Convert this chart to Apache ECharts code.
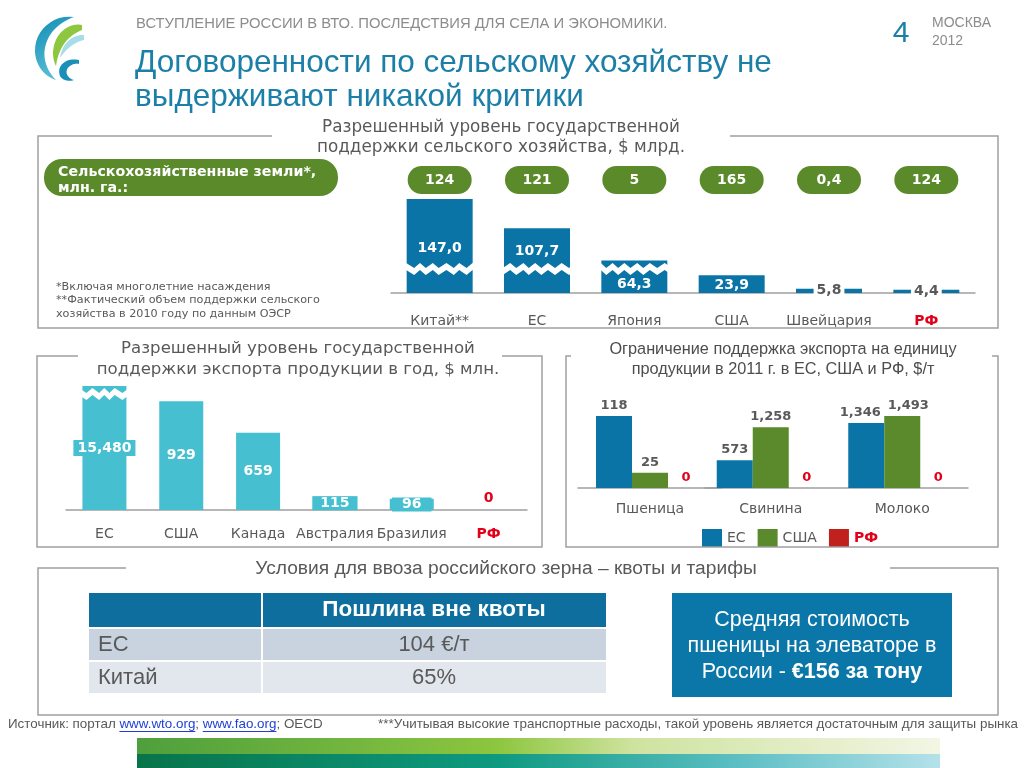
<!DOCTYPE html>
<html><head><meta charset="utf-8">
<script src="https://cdn.jsdelivr.net/npm/echarts@6/dist/echarts.min.js"></script>
<style>html,body{margin:0;padding:0;background:#fff}#c{width:1024px;height:768px}</style>
</head><body><div id="c"></div>
<script>
// ---------- data ----------
const supportCats = ['Китай**', 'ЕС', 'Япония', 'США', 'Швейцария', 'РФ'];
const supportValues = [147.0, 107.7, 64.3, 23.9, 5.8, 4.4];
const landValues = [124, 121, 5, 165, 0.4, 124];
const exportCats = ['ЕС', 'США', 'Канада', 'Австралия', 'Бразилия', 'РФ'];
const exportValues = [15480, 929, 659, 115, 96, 0];
const unitCats = ['Пшеница', 'Свинина', 'Молоко'];
const unitEU = [118, 573, 1346];
const unitUSA = [25, 1258, 1493];
const unitRF = [0, 0, 0];
const unitSeriesNames = ['ЕС', 'США', 'РФ'];
const tableHeader = 'Пошлина вне квоты';
const tableRows = [['ЕС', '104 €/т'], ['Китай', '65%']];

// ---------- styles ----------
const DV = '"DejaVu Sans", Verdana, sans-serif';
const LS = '"Liberation Sans", Arial, sans-serif';
const GREY = '#595959';
const AXIS = '#A0A0A0';
const RED = '#E3001B';
const BLUE = '#0B74A6';
const CYAN = '#46BFD0';
const GREEN = '#5B8A2B';
const RFRED = '#C0211C';
const TEAL = '#1B7FA7';

const fmtDec = v => v.toFixed(1).replace('.', ',');
const fmtLand = v => String(v).replace('.', ',');
const fmtK = v => v.toLocaleString('en-US');

const supportLabelStyles = [
  { position: 'insideBottom', distance: 38 },
  { position: 'insideBottom', distance: 35 },
  { position: 'insideBottom', distance: 2 },
  { position: 'insideBottom', distance: 1 },
  { position: 'inside', color: GREY, backgroundColor: '#fff', padding: [0, 3] },
  { position: 'inside', color: GREY, backgroundColor: '#fff', padding: [0, 3] }
];
const exportLabelStyles = [
  { position: 'inside', backgroundColor: CYAN, padding: [1, 4] },
  { position: 'inside' },
  { position: 'inside' },
  { position: 'inside', backgroundColor: CYAN, padding: [0, 8] },
  { position: 'inside', backgroundColor: CYAN, padding: [0, 10] },
  { position: 'top', distance: 5, color: RED }
];
// horizontal label nudges for chart 3 (series x category)
const unitLabelOffsets = [[0, 0, -6], [0, 0, 6], [0, 0, 0]];

const rfRich = { r: { color: RED, fontWeight: 'bold', fontFamily: DV, fontSize: 14 } };
const rfFmt = v => v === 'РФ' ? '{r|РФ}' : v;

const mctx = document.createElement('canvas').getContext('2d');
function tw(text, font) { mctx.font = font; return mctx.measureText(text).width; }

function T(x, y, text, o) {
  o = o || {};
  return {
    type: 'text', x: x, y: y, silent: true, z: 10,
    style: {
      text: text, fill: o.fill || GREY, font: o.font || ('14px ' + DV),
      textAlign: o.align || 'left', textVerticalAlign: 'middle', rich: o.rich
    }
  };
}
function R(x, y, w, h, fill, r) {
  return { type: 'rect', silent: true, z: 5, shape: { x: x, y: y, width: w, height: h, r: r || 0 }, style: { fill: fill } };
}
function PL(points) {
  return { type: 'polyline', silent: true, z: 5, shape: { points: points }, style: { stroke: AXIS, lineWidth: 1.5, fill: null } };
}
// sample a chain of cubic bezier segments into polygon points (logo drawing only)
function bezPoly(start, segs) {
  const pts = [start];
  let p0 = start;
  segs.forEach(s => {
    const [c1, c2, p3] = s;
    for (let t = 1; t <= 12; t++) {
      const u = t / 12, m = 1 - u;
      pts.push([
        m * m * m * p0[0] + 3 * m * m * u * c1[0] + 3 * m * u * u * c2[0] + u * u * u * p3[0],
        m * m * m * p0[1] + 3 * m * m * u * c1[1] + 3 * m * u * u * c2[1] + u * u * u * p3[1]
      ]);
    }
    p0 = p3;
  });
  return pts;
}
function PG(points, fill) {
  return { type: 'polygon', silent: true, z: 5, shape: { points: points }, style: { fill: fill } };
}

// ---------- graphics ----------
const g = [];
// logo
g.push(PG(bezPoly([74, 17], [[[54, 14], [34, 30], [35, 52]], [[36, 66], [44, 76], [56, 80]], [[46, 70], [43, 58], [45, 48]], [[48, 32], [60, 22], [74, 17]]]),
  new echarts.graphic.LinearGradient(0, 0, 1, 1, [{ offset: 0, color: '#0E8DB6' }, { offset: 1, color: '#6CC9DA' }])));
g.push(PG(bezPoly([82, 25], [[[68, 22], [54, 34], [53, 52]], [[53, 58], [54, 62], [56, 66]], [[58, 50], [66, 36], [82, 30]]]), '#8DC63F'));
g.push(PG(bezPoly([84, 35], [[[72, 34], [62, 44], [60, 58]], [[67, 48], [75, 42], [84, 40]]]), '#A8DCE8'));
g.push(PG(bezPoly([79, 60], [[[66, 57], [56, 66], [60, 76]], [[62, 80], [68, 82], [74, 80]], [[66, 78], [64, 70], [70, 66]], [[73, 64], [76, 63], [79, 64]]]), '#1A8FB8'));

// header
g.push(T(136, 24, 'ВСТУПЛЕНИЕ РОССИИ В ВТО. ПОСЛЕДСТВИЯ ДЛЯ СЕЛА И ЭКОНОМИКИ.', { font: '14.8px ' + LS, fill: '#8C8C8C' }));
g.push(T(135, 63, 'Договоренности по сельскому хозяйству не', { font: '31.5px ' + LS, fill: TEAL }));
g.push(T(135, 97, 'выдерживают никакой критики', { font: '31.5px ' + LS, fill: TEAL }));
g.push(T(901, 34, '4', { font: '30px ' + LS, fill: TEAL, align: 'center' }));
g.push(T(932, 23, 'МОСКВА', { font: '14px ' + LS, fill: '#8C8C8C' }));
g.push(T(932, 41, '2012', { font: '14px ' + LS, fill: '#8C8C8C' }));

// section borders
g.push(PL([[272, 136], [38, 136], [38, 328], [998, 328], [998, 136], [730, 136]]));
g.push(PL([[78, 356], [37, 356], [37, 547], [542, 547], [542, 356], [502, 356]]));
g.push(PL([[571, 356], [566, 356], [566, 547], [998, 547], [998, 356], [992, 356]]));
g.push(PL([[126, 568], [38, 568], [38, 715], [998, 715], [998, 568], [890, 568]]));

// section 1 texts
g.push(T(501, 128, 'Разрешенный уровень государственной', { font: '16.8px ' + DV, align: 'center' }));
g.push(T(501, 148, 'поддержки сельского хозяйства, $ млрд.', { font: '16.8px ' + DV, align: 'center' }));
g.push(R(44, 159, 294, 37, GREEN, 18));
g.push(T(58, 172, 'Сельскохозяйственные земли*,', { font: 'bold 14.2px ' + DV, fill: '#fff' }));
g.push(T(58, 188, 'млн. га.:', { font: 'bold 14.2px ' + DV, fill: '#fff' }));
g.push(T(56, 287, '*Включая многолетние насаждения', { font: '11.2px ' + DV }));
g.push(T(56, 300, '**Фактический объем поддержки сельского', { font: '11.2px ' + DV }));
g.push(T(56, 314, 'хозяйства в 2010 году по данным ОЭСР', { font: '11.2px ' + DV }));

// section 2 / 3 titles
g.push(T(298, 349, 'Разрешенный уровень государственной', { font: '16.6px ' + DV, align: 'center' }));
g.push(T(298, 370, 'поддержки экспорта продукции в год, $ млн.', { font: '16.6px ' + DV, align: 'center' }));
g.push(T(783, 350, 'Ограничение поддержка экспорта на единицу', { font: '16.3px ' + LS, align: 'center', fill: '#4D4D4D' }));
g.push(T(783, 370, 'продукции в 2011 г. в ЕС, США и РФ, $/т', { font: '16.3px ' + LS, align: 'center', fill: '#4D4D4D' }));

// section 4
g.push(T(506, 569, 'Условия для ввоза российского зерна – квоты и тарифы', { font: '19.2px ' + LS, align: 'center' }));
g.push(R(89, 593, 517, 34, '#0E6F9F'));
g.push(R(89, 629, 517, 31, '#C8D3DF'));
g.push(R(89, 662, 517, 31, '#E2E7ED'));
g.push({ type: 'line', silent: true, z: 6, shape: { x1: 262, y1: 593, x2: 262, y2: 693 }, style: { stroke: '#fff', lineWidth: 2 } });
g.push(T(434, 610, tableHeader, { font: 'bold 22.5px ' + LS, fill: '#fff', align: 'center' }));
tableRows.forEach((row, i) => {
  const y = 645 + i * 33;
  g.push(T(98, y, row[0], { font: '22px ' + LS }));
  g.push(T(434, y, row[1], { font: '22px ' + LS, align: 'center' }));
});
g.push(R(672, 593, 280, 104, '#0B77A8'));
g.push(T(812, 620, 'Средняя стоимость', { font: '21.5px ' + LS, fill: '#fff', align: 'center' }));
g.push(T(812, 646, 'пшеницы на элеваторе в', { font: '21.5px ' + LS, fill: '#fff', align: 'center' }));
g.push(T(812, 672, '{n|России - }{b|€156 за тону}', { font: '21.5px ' + LS, fill: '#fff', align: 'center',
  rich: { n: { font: '21.5px ' + LS, fill: '#fff' }, b: { font: 'bold 21.5px ' + LS, fill: '#fff' } } }));

// footer
(function () {
  const f = '13.4px ' + LS;
  const segs = [['Источник: портал ', false], ['www.wto.org', true], ['; ', false], ['www.fao.org', true], ['; OECD', false]];
  let x = 8;
  segs.forEach(s => {
    const w = tw(s[0], f);
    g.push(T(x, 724, s[0], { font: f, fill: s[1] ? '#1F3FD8' : GREY }));
    if (s[1]) g.push({ type: 'line', silent: true, z: 10, shape: { x1: x, y1: 731.5, x2: x + w, y2: 731.5 }, style: { stroke: '#1F3FD8', lineWidth: 1 } });
    x += w;
  });
  g.push(T(1018, 724, '***Учитывая высокие транспортные расходы, такой уровень является достаточным для защиты рынка', { font: f, align: 'right' }));
})();

// banner
g.push(R(137, 738, 803, 16, new echarts.graphic.LinearGradient(0, 0, 1, 0, [
  { offset: 0, color: '#4E9F3D' }, { offset: 0.45, color: '#8DC63F' }, { offset: 0.62, color: '#CFE3A0' }, { offset: 1, color: '#F2F6E4' }])));
g.push(R(137, 754, 803, 14, new echarts.graphic.LinearGradient(0, 0, 1, 0, [
  { offset: 0, color: '#08744A' }, { offset: 0.45, color: '#0E9A80' }, { offset: 0.75, color: '#5DBFC4' }, { offset: 1, color: '#B5E1EA' }])));

// ---------- chart ----------
const chart = echarts.init(document.getElementById('c'), null, { renderer: 'canvas' });

const hiddenVal = (max, extra) => Object.assign({
  type: 'value', min: 0, max: max, axisLine: { show: false }, axisTick: { show: false },
  axisLabel: { show: false }, splitLine: { show: false }
}, extra || {});
const catAxis = (gi, data, margin, extra) => Object.assign({
  type: 'category', gridIndex: gi, data: data,
  axisLine: { lineStyle: { color: AXIS, width: 1.5 } }, axisTick: { show: false },
  axisLabel: { interval: 0, color: GREY, fontFamily: DV, fontSize: 14, margin: margin, formatter: rfFmt, rich: rfRich }
}, extra || {});
const breakArea = { show: true, itemStyle: { color: '#fff', borderColor: '#fff', borderWidth: 0, opacity: 1 },
  zigzagAmplitude: 2.5, zigzagMinSpan: 5, zigzagMaxSpan: 8, zigzagZ: 100, expandOnClick: false };

const unitBar = (name, color, gi, values, offsets, isRF) => ({
  name: name, type: 'bar', xAxisIndex: gi, yAxisIndex: gi, barWidth: 36, barGap: '0%',
  itemStyle: { color: color }, animation: false,
  label: { show: true, position: 'top', distance: 4, color: isRF ? RED : GREY, fontFamily: DV, fontWeight: 'bold', fontSize: 13,
    formatter: p => fmtK(p.value) },
  data: values.map((v, i) => ({ value: v, label: { offset: [offsets[i], 0] } }))
});

const unitSets = [unitEU, unitUSA, unitRF];
const unitColors = [BLUE, '#5A8A2C', RFRED];
const unitSeries = [];
unitSets.forEach((arr, k) => unitSeries.push(unitBar(unitSeriesNames[k], unitColors[k], 3, arr.slice(0, 1), unitLabelOffsets[k].slice(0, 1), k === 2)));
unitSets.forEach((arr, k) => unitSeries.push(unitBar(unitSeriesNames[k], unitColors[k], 4, arr.slice(1), unitLabelOffsets[k].slice(1), k === 2)));

chart.setOption({
  animation: false,
  backgroundColor: '#fff',
  textStyle: { fontFamily: DV },
  graphic: { elements: g },
  grid: [
    { left: 391, top: 199, width: 584, height: 94 },
    { left: 391, top: 166, width: 584, height: 28 },
    { left: 66, top: 386, width: 461, height: 124 },
    { left: 578, top: 416, width: 144, height: 72 },
    { left: 705, top: 416, width: 263, height: 72 }
  ],
  xAxis: [
    catAxis(0, supportCats, 21),
    { type: 'category', gridIndex: 1, data: supportCats, show: false },
    catAxis(2, exportCats, 17),
    catAxis(3, unitCats.slice(0, 1), 14),
    catAxis(4, unitCats.slice(1), 14)
  ],
  yAxis: [
    hiddenVal(147, { gridIndex: 0, breaks: [{ start: 28, end: 58, gap: '7.5%' }], breakArea: breakArea }),
    hiddenVal(1, { gridIndex: 1 }),
    hiddenVal(15480, { gridIndex: 2, breaks: [{ start: 960, end: 15440, gap: '5.6%' }], breakArea: breakArea }),
    hiddenVal(118, { gridIndex: 3 }),
    hiddenVal(1493, { gridIndex: 4 })
  ],
  legend: {
    left: 697, top: 524, itemWidth: 20, itemHeight: 18, itemGap: 12, icon: 'rect', selectedMode: false,
    textStyle: { color: GREY, fontFamily: DV, fontSize: 14 },
    data: [{ name: 'ЕС' }, { name: 'США' }, { name: 'РФ', textStyle: { color: RED, fontWeight: 'bold' } }]
  },
  series: [
    {
      name: 'Поддержка сельского хозяйства', type: 'bar', xAxisIndex: 0, yAxisIndex: 0, barWidth: 66,
      itemStyle: { color: BLUE },
      label: { show: true, color: '#fff', fontFamily: DV, fontWeight: 'bold', fontSize: 14, formatter: p => fmtDec(p.value) },
      data: supportValues.map((v, i) => ({ value: v, label: supportLabelStyles[i] }))
    },
    {
      name: 'Сельскохозяйственные земли', type: 'scatter', xAxisIndex: 1, yAxisIndex: 1, silent: true,
      symbol: 'path://M14,0 H50 A14,14 0 0 1 50,28 H14 A14,14 0 0 1 14,0 Z', symbolSize: [64, 28],
      itemStyle: { color: GREEN, opacity: 1 },
      label: { show: true, position: 'inside', color: '#fff', fontFamily: DV, fontWeight: 'bold', fontSize: 14,
        formatter: p => fmtLand(p.value[2]) },
      data: landValues.map((v, i) => [i, 0.5, v])
    },
    {
      name: 'Поддержка экспорта', type: 'bar', xAxisIndex: 2, yAxisIndex: 2, barWidth: 44,
      itemStyle: { color: CYAN },
      label: { show: true, color: '#fff', fontFamily: DV, fontWeight: 'bold', fontSize: 14, formatter: p => fmtK(p.value) },
      data: exportValues.map((v, i) => ({ value: v, label: exportLabelStyles[i] }))
    }
  ].concat(unitSeries)
});
</script>
</body></html>
